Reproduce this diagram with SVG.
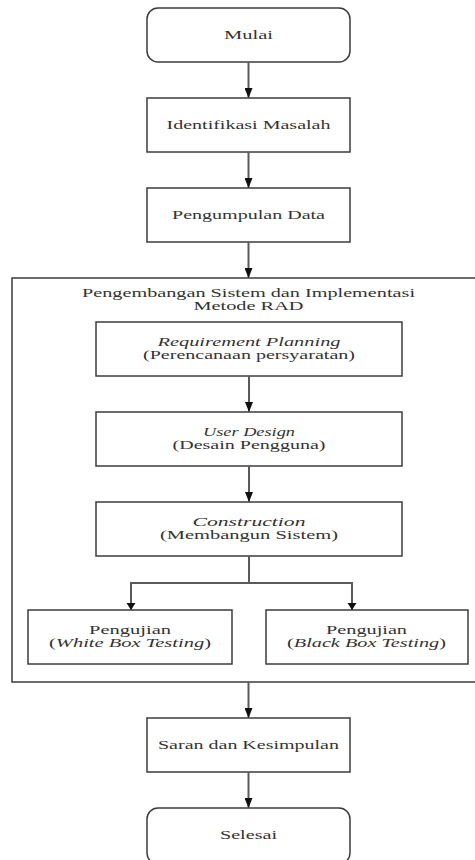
<svg xmlns="http://www.w3.org/2000/svg" width="475" height="860" viewBox="0 0 475 860">
  <style>
    .box { fill: #ffffff; stroke: #3c3c3c; stroke-width: 1.5; }
    .frame { fill: none; stroke: #3c3c3c; stroke-width: 1.5; }
    .lbl { font-family: "Liberation Serif", "DejaVu Serif", "Times New Roman", serif; font-size: 11.5px; fill: #333333; text-anchor: middle; }
    .it { font-style: italic; }
    .conn { fill: none; stroke: #5a5a5a; stroke-width: 2; }
  </style>
  <defs>
    <marker id="arrow" markerUnits="userSpaceOnUse" markerWidth="10" markerHeight="8" refX="10" refY="4" orient="auto">
      <path d="M0,0 L10,4 L0,8 z" fill="#111111"/>
    </marker>
  </defs>

  <rect width="475" height="860" fill="#ffffff"/>

  <!-- RAD sub-process frame -->
  <g id="rad-frame">
    <rect class="frame" x="12" y="278" width="470" height="404"/>
    <text class="lbl" x="248.5" y="297" textLength="333" lengthAdjust="spacingAndGlyphs">Pengembangan Sistem dan Implementasi</text>
    <text class="lbl" x="248.5" y="310" textLength="110" lengthAdjust="spacingAndGlyphs">Metode RAD</text>
  </g>

  <g id="mulai">
    <rect class="box" x="147" y="8" width="203" height="54" rx="11"/>
    <text class="lbl" x="248.5" y="39" textLength="49" lengthAdjust="spacingAndGlyphs">Mulai</text>
  </g>

  <g id="identifikasi">
    <rect class="box" x="147" y="98" width="203" height="54"/>
    <text class="lbl" x="248.5" y="129" textLength="164" lengthAdjust="spacingAndGlyphs">Identifikasi Masalah</text>
  </g>

  <g id="pengumpulan">
    <rect class="box" x="147" y="188" width="203" height="54"/>
    <text class="lbl" x="248.5" y="219" textLength="153" lengthAdjust="spacingAndGlyphs">Pengumpulan Data</text>
  </g>

  <g id="requirement">
    <rect class="box" x="96" y="322" width="306" height="54"/>
    <text class="lbl it" x="249" y="346" textLength="183" lengthAdjust="spacingAndGlyphs">Requirement Planning</text>
    <text class="lbl" x="249" y="359" textLength="212" lengthAdjust="spacingAndGlyphs">(Perencanaan persyaratan)</text>
  </g>

  <g id="user-design">
    <rect class="box" x="96" y="412" width="306" height="54"/>
    <text class="lbl it" x="249" y="436" textLength="92" lengthAdjust="spacingAndGlyphs">User Design</text>
    <text class="lbl" x="249" y="449" textLength="153" lengthAdjust="spacingAndGlyphs">(Desain Pengguna)</text>
  </g>

  <g id="construction">
    <rect class="box" x="96" y="502" width="306" height="54"/>
    <text class="lbl it" x="249" y="526" textLength="113" lengthAdjust="spacingAndGlyphs">Construction</text>
    <text class="lbl" x="249" y="539" textLength="178" lengthAdjust="spacingAndGlyphs">(Membangun Sistem)</text>
  </g>

  <g id="white-box">
    <rect class="box" x="28" y="610" width="204" height="54"/>
    <text class="lbl" x="130" y="634" textLength="82" lengthAdjust="spacingAndGlyphs">Pengujian</text>
    <text class="lbl" x="130" y="647" textLength="162" lengthAdjust="spacingAndGlyphs">(<tspan class="it">White Box Testing</tspan>)</text>
  </g>

  <g id="black-box">
    <rect class="box" x="266" y="610" width="202" height="54"/>
    <text class="lbl" x="366.5" y="634" textLength="81" lengthAdjust="spacingAndGlyphs">Pengujian</text>
    <text class="lbl" x="366.5" y="647" textLength="159" lengthAdjust="spacingAndGlyphs">(<tspan class="it">Black Box Testing</tspan>)</text>
  </g>

  <g id="saran">
    <rect class="box" x="147" y="718" width="203" height="54"/>
    <text class="lbl" x="248.5" y="749" textLength="181" lengthAdjust="spacingAndGlyphs">Saran dan Kesimpulan</text>
  </g>

  <g id="selesai">
    <rect class="box" x="147" y="808" width="203" height="56" rx="11"/>
    <text class="lbl" x="248.5" y="839" textLength="57" lengthAdjust="spacingAndGlyphs">Selesai</text>
  </g>

  <g id="connectors">
    <line class="conn" x1="248.5" y1="62" x2="248.5" y2="98" marker-end="url(#arrow)"/>
    <line class="conn" x1="248.5" y1="152" x2="248.5" y2="188" marker-end="url(#arrow)"/>
    <line class="conn" x1="248.5" y1="242" x2="248.5" y2="278" marker-end="url(#arrow)"/>
    <line class="conn" x1="249" y1="376" x2="249" y2="412" marker-end="url(#arrow)"/>
    <line class="conn" x1="249" y1="466" x2="249" y2="502" marker-end="url(#arrow)"/>
    <line class="conn" x1="249" y1="556" x2="249" y2="583"/>
    <path class="conn" d="M131,610 V583 H352 V610" stroke-linejoin="miter"/>
    <path d="M126.5,603 L135.5,603 L131,610 z" fill="#111111"/>
    <path d="M347.5,603 L356.5,603 L352,610 z" fill="#111111"/>
    <line class="conn" x1="248.5" y1="682" x2="248.5" y2="718" marker-end="url(#arrow)"/>
    <line class="conn" x1="248.5" y1="772" x2="248.5" y2="808" marker-end="url(#arrow)"/>
  </g>
</svg>
